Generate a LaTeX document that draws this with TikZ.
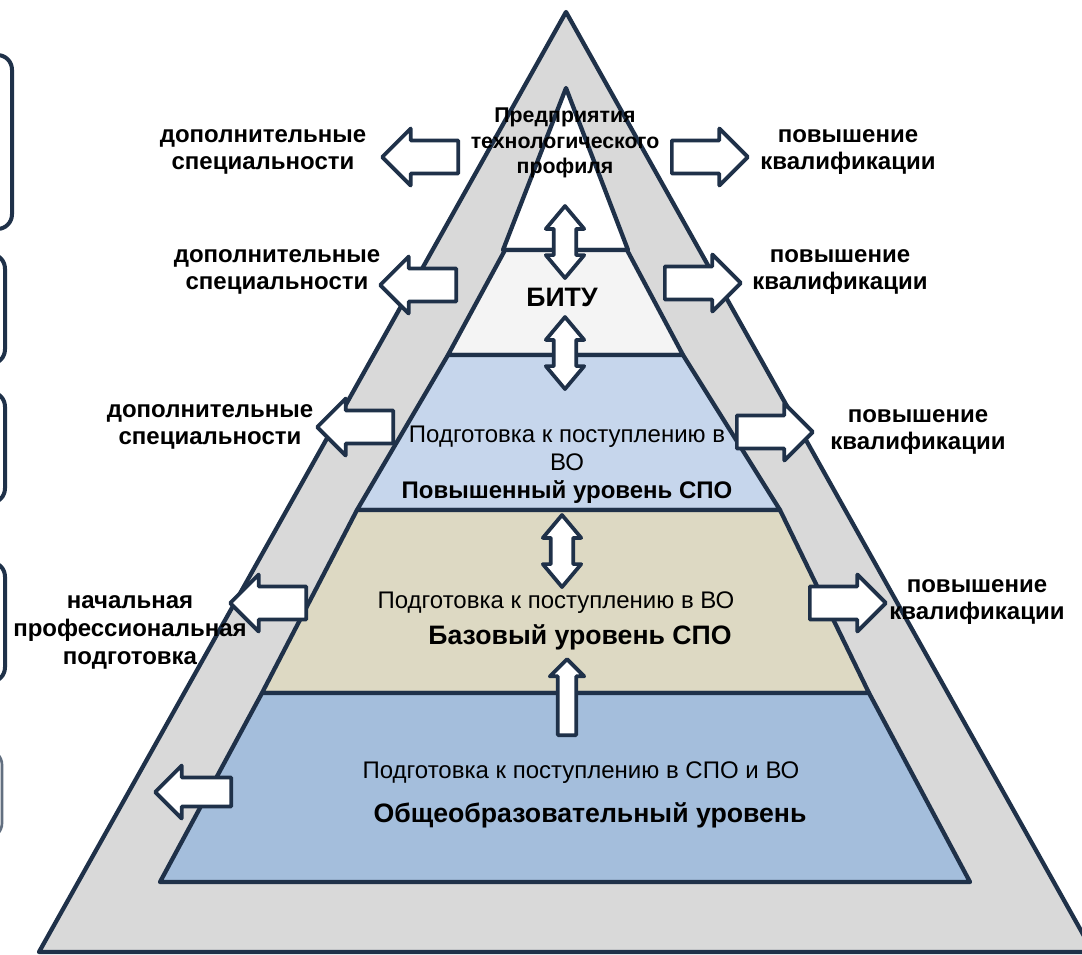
\documentclass[tikz,border=0pt]{standalone}
\usepackage{fontspec}
\setmainfont{Liberation Sans}
\usetikzlibrary{shapes.arrows}

\definecolor{navy}{HTML}{1F3149}
\definecolor{shell}{HTML}{D9D9D9}
\definecolor{bitufill}{HTML}{F4F4F4}
\definecolor{highfill}{HTML}{C6D6EC}
\definecolor{basefill}{HTML}{DDD9C3}
\definecolor{genfill}{HTML}{A4BEDC}

\begin{document}
\begin{tikzpicture}[x=0.75pt, y=0.75pt,
    layer/.style={draw=navy, line width=3.2pt, line join=round},
    sidebox/.style={draw=navy, line width=3pt, rounded corners=11pt},
    harrow/.style={single arrow, draw=navy, fill=white, line width=2.8pt, line join=round,
      inner xsep=0pt, inner ysep=11pt, minimum height=57pt, single arrow head extend=9pt},
    varrow/.style={double arrow, draw=navy, fill=white, line width=2.8pt, line join=round,
      inner xsep=0pt, inner ysep=7pt, minimum height=54pt, double arrow head extend=6pt,
      double arrow tip angle=80, rotate=90},
    uparrow/.style={single arrow, draw=navy, fill=white, line width=2.8pt, line join=round,
      inner xsep=0pt, inner ysep=5.5pt, minimum height=57pt, single arrow head extend=6pt, rotate=90},
    sidetext/.style={font=\bfseries\fontsize{18}{20.5}\selectfont, align=center},
    leveltext/.style={font=\fontsize{18}{21}\selectfont, align=center},
    levelname/.style={font=\bfseries\fontsize{20}{22}\selectfont}
  ]
  \useasboundingbox (0,0) rectangle (1082,-954);
  \clip (0,0) rectangle (1082,-954);

  % boxes cut off at the left edge
  \draw[sidebox] (-60,-55) rectangle (12,-229);
  \draw[sidebox] (-60,-254) rectangle (5,-364);
  \draw[sidebox] (-60,-392) rectangle (5,-503);
  \draw[sidebox] (-60,-562) rectangle (5,-682);
  \draw[sidebox, draw=navy!70, line width=2pt] (-60,-750) rectangle (2,-838);

  % outer pyramid
  \draw[layer, fill=shell] (566,-12) -- (1093,-952) -- (39,-952) -- cycle;

  % levels
  \draw[layer, fill=white] (566,-88) -- (628,-250) -- (503,-250) -- cycle;
  \draw[layer, fill=bitufill] (505,-250) -- (627,-250) -- (683,-355) -- (448,-355) -- cycle;
  \draw[layer, fill=highfill] (448,-355) -- (683,-355) -- (780,-510) -- (357,-510) -- cycle;
  \draw[layer, fill=basefill] (357,-510) -- (780,-510) -- (869,-693) -- (262,-693) -- cycle;
  \draw[layer, fill=genfill] (262,-693) -- (869,-693) -- (970,-882) -- (160,-882) -- cycle;

  % arrows out to the left
  \node[harrow, rotate=180, anchor=tail] (outL1) at (460,-157) {};
  \node[harrow, rotate=180, anchor=tail] (outL2) at (458,-285) {};
  \node[harrow, rotate=180, anchor=tail] (outL3) at (395,-427) {};
  \node[harrow, rotate=180, anchor=tail] (outL4) at (308,-603) {};
  \node[harrow, rotate=180, anchor=tail, inner ysep=9.5pt] (outL5) at (233,-792) {};

  % arrows out to the right
  \node[harrow, anchor=tail] (outR1) at (670,-157) {};
  \node[harrow, anchor=tail] (outR2) at (663,-283) {};
  \node[harrow, anchor=tail] (outR3) at (735,-432) {};
  \node[harrow, anchor=tail] (outR4) at (808,-603) {};

  % arrows between levels
  \node[varrow] (v1) at (565,-242) {};
  \node[varrow] (v2) at (565,-353) {};
  \node[varrow] (v3) at (562,-551) {};
  \node[uparrow, anchor=tail] (up1) at (567,-737) {};

  % texts inside the pyramid
  \node[font=\bfseries\fontsize{16}{19}\selectfont, align=center] (firms) at (565,-143)
    {Предприятия\\технологического\\профиля};
  \node[font=\bfseries\fontsize{20}{22}\selectfont] (bitu) at (562,-297) {БИТУ};
  \node[leveltext] (high) at (567,-465)
    {Подготовка к поступлению в\\ВО\\\textbf{Повышенный уровень СПО}};
  \node[leveltext] (baseprep) at (556,-603) {Подготовка к поступлению в ВО};
  \node[levelname] (base) at (580,-637) {Базовый уровень СПО};
  \node[leveltext] (genprep) at (581,-773) {Подготовка к поступлению в СПО и ВО};
  \node[levelname] (gen) at (590,-815) {Общеобразовательный уровень};

  % side texts
  \node[sidetext] (extra1) at (263,-152) {дополнительные\\специальности};
  \node[sidetext] (extra2) at (277,-272) {дополнительные\\специальности};
  \node[sidetext] (extra3) at (210,-427) {дополнительные\\специальности};
  \node[sidetext, font=\bfseries\fontsize{18}{21}\selectfont] (initial) at (130,-632)
    {начальная\\профессиональная\\подготовка};
  \node[sidetext] (qual1) at (848,-152) {повышение\\квалификации};
  \node[sidetext] (qual2) at (840,-272) {повышение\\квалификации};
  \node[sidetext] (qual3) at (918,-432) {повышение\\квалификации};
  \node[sidetext] (qual4) at (977,-602) {повышение\\квалификации};
\end{tikzpicture}
\end{document}
